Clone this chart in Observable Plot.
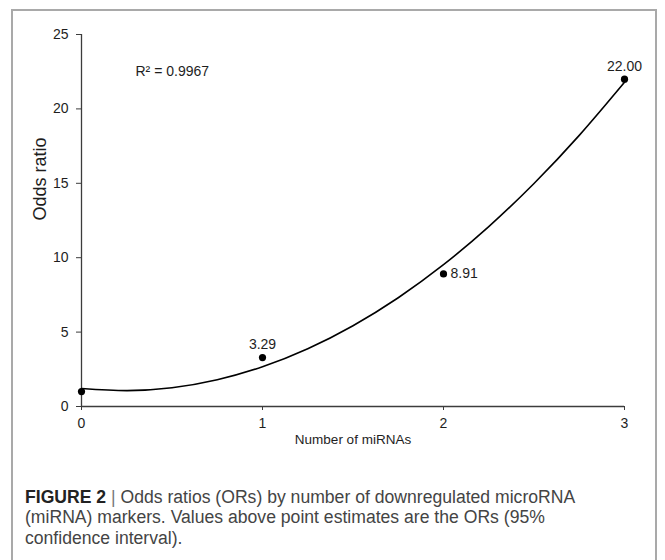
<!DOCTYPE html>
<html>
<head>
<meta charset="utf-8">
<script src="https://cdn.jsdelivr.net/npm/d3@7"></script>
<script src="https://cdn.jsdelivr.net/npm/@observablehq/plot@0.6"></script>
<style>
  html, body { margin: 0; padding: 0; background: #fff; }
  body { width: 665px; height: 560px; position: relative; overflow: hidden; font-family: "Liberation Sans", Arial, sans-serif; }
  #frame { position: absolute; left: 11px; top: 9px; width: 646px; height: 620px; box-sizing: border-box; border: 2px solid #a9a9a9; }
  #chart { position: absolute; left: 0; top: 0; }
  #caption { position: absolute; left: 25px; top: 486.5px; width: 630px; font-size: 17.6px; line-height: 20.5px; color: #444; font-family: "Liberation Sans", Arial, sans-serif; }
  #caption b { color: #222; }
  #caption .bar { color: #777; }
</style>
</head>
<body>
<div id="frame"></div>
<div id="chart"></div>
<div id="caption"><b>FIGURE 2</b> <span class="bar">|</span> Odds ratios (ORs) by number of downregulated microRNA<br>(miRNA) markers. Values above point estimates are the ORs (95%<br>confidence interval).</div>
<script>
// Observed point estimates
const miRNACount = [0, 1, 2, 3];
const oddsRatio = [1.00, 3.29, 8.91, 22.00];
const pointLabels = ["", "3.29", "8.91", "22.00"];

// Trendline (2nd-order polynomial)
const trendX = [0, 0.25, 0.5, 0.75, 1, 1.25, 1.5, 1.75, 2, 2.25, 2.5, 2.75, 3];
const trendY = [1.21, 1.07, 1.26, 1.80, 2.67, 3.88, 5.43, 7.31, 9.53, 12.09, 14.99, 18.22, 21.79];

const rSquaredText = "R\u00B2 = 0.9967";
const xTicks = [0, 1, 2, 3];
const yTicks = [0, 5, 10, 15, 20, 25];
const xTitle = "Number of miRNAs";
const yTitle = "Odds ratio";

const points = miRNACount.map((x, i) => ({x, y: oddsRatio[i], label: pointLabels[i]}));
const trend = trendX.map((x, i) => ({x, y: trendY[i]}));

const axisColor = "#3c3c3c";
const textColor = "#1e1e1e";

const chart = Plot.plot({
  width: 665,
  height: 470,
  marginLeft: 81,
  marginRight: 41,
  marginTop: 34,
  marginBottom: 64,
  style: { background: "transparent", fontFamily: "Liberation Sans, Arial, sans-serif", overflow: "visible" },
  x: { domain: [0, 3] },
  y: { domain: [0, 25] },
  marks: [
    Plot.ruleX([0], { stroke: axisColor, strokeWidth: 1.3 }),
    Plot.ruleY([0], { stroke: axisColor, strokeWidth: 1.3 }),
    Plot.axisY({ ticks: yTicks, tickFormat: d => String(d), tickSize: 5, tickPadding: 8, fontSize: 14, color: textColor, stroke: axisColor, label: null }),
    Plot.axisX({ ticks: xTicks, tickFormat: d => String(d), tickSize: 4, tickPadding: 8, fontSize: 14, color: textColor, stroke: axisColor, label: null }),
    Plot.text([yTitle], { frameAnchor: "left", dx: -41, rotate: -90, fontSize: 18, fill: textColor }),
    Plot.text([xTitle], { frameAnchor: "bottom", dy: 37, fontSize: 13.5, fill: textColor }),
    Plot.text([rSquaredText], { frameAnchor: "top-left", dx: 54, dy: 32, textAnchor: "start", fontSize: 14, fill: textColor }),
    Plot.line(trend, { x: "x", y: "y", curve: "natural", stroke: "#000", strokeWidth: 1.6 }),
    Plot.dot(points, { x: "x", y: "y", r: 3.6, fill: "#000" }),
    Plot.text(points.filter(d => d.x === 1 || d.x === 3), { x: "x", y: "y", text: "label", dy: -13, fontSize: 14, fill: textColor }),
    Plot.text(points.filter(d => d.x === 2), { x: "x", y: "y", text: "label", dx: 7, textAnchor: "start", fontSize: 14, fill: textColor })
  ]
});
document.getElementById("chart").appendChild(chart);
</script>
</body>
</html>
